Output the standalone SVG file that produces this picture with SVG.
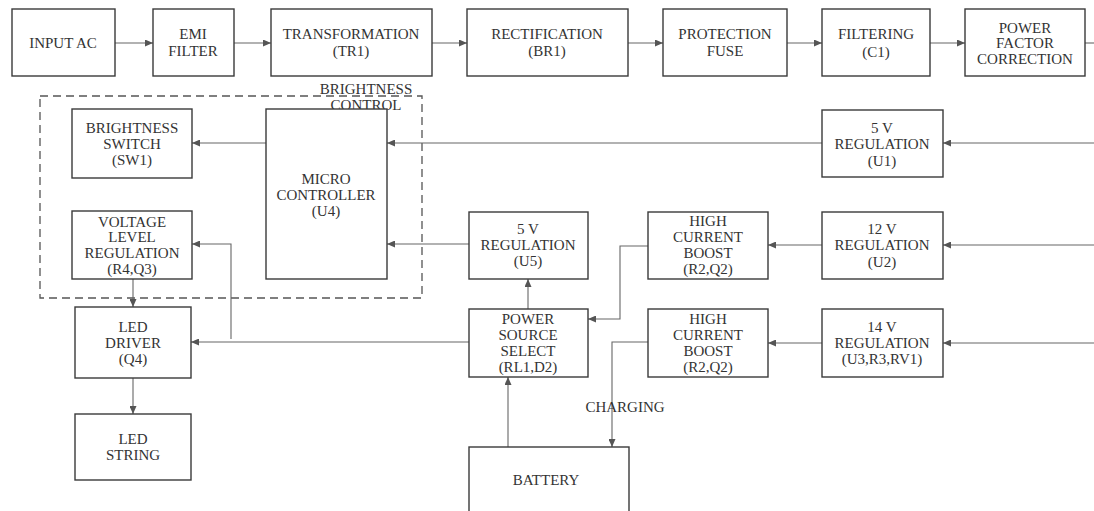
<svg xmlns="http://www.w3.org/2000/svg" width="1094" height="511" viewBox="0 0 1094 511">
<defs>
<marker id="ah" markerUnits="userSpaceOnUse" markerWidth="8" markerHeight="7" refX="8" refY="3.5" orient="auto">
<path d="M0,0 L8,3.5 L0,7 z" fill="#555"/>
</marker>
<style>
.box{fill:#fff;stroke:#3a3a3a;stroke-width:1.4}
.t{font-family:"Liberation Serif","Times New Roman",serif;font-size:15px;fill:#333;text-anchor:middle;dominant-baseline:central}
.c{fill:none;stroke:#666;stroke-width:1.1;marker-end:url(#ah)}
.cn{fill:none;stroke:#666;stroke-width:1.1}
.dash{fill:none;stroke:#555;stroke-width:1.3;stroke-dasharray:8 5}
</style>
</defs>
<rect width="1094" height="511" fill="#fff"/>

<g id="brightness-control">
<rect class="dash" x="40" y="96" width="382" height="202"/>
<text class="t" x="366" y="89">BRIGHTNESS</text>
<text class="t" x="366" y="105">CONTROL</text>
</g>

<g id="connectors">
<path class="c" d="M115,43 H153"/>
<path class="c" d="M234,43 H271"/>
<path class="c" d="M432,43 H467"/>
<path class="c" d="M628,43 H663"/>
<path class="c" d="M787,43 H822"/>
<path class="c" d="M930,43 H965"/>
<path class="cn" d="M1085,43 H1094"/>
<path class="c" d="M1094,143 H943"/>
<path class="c" d="M1094,245 H943"/>
<path class="c" d="M1094,343 H943"/>
<path class="c" d="M822,143 H387"/>
<path class="c" d="M266,143 H192"/>
<path class="c" d="M822,245 H768"/>
<path class="c" d="M648,246 H620 V319 H588"/>
<path class="c" d="M822,343 H768"/>
<path class="c" d="M648,342 H612 V447"/>
<path class="c" d="M508,447 V377"/>
<path class="c" d="M528,309 V279"/>
<path class="c" d="M469,244 H387"/>
<path class="c" d="M469,342 H191"/>
<path class="c" d="M231,339 V244 H192"/>
<path class="c" d="M133,279 V307"/>
<path class="c" d="M133,378 V414"/>
<text class="t" x="625" y="407">CHARGING</text>
</g>

<g id="input-ac"><rect class="box" x="12" y="9" width="103" height="67"/><text class="t" x="63" y="43">INPUT AC</text></g>
<g id="emi-filter"><rect class="box" x="153" y="9" width="81" height="67"/><text class="t" x="193" y="34">EMI</text><text class="t" x="193" y="51">FILTER</text></g>
<g id="transformation"><rect class="box" x="271" y="9" width="161" height="67"/><text class="t" x="351" y="34">TRANSFORMATION</text><text class="t" x="351" y="51">(TR1)</text></g>
<g id="rectification"><rect class="box" x="467" y="9" width="161" height="67"/><text class="t" x="547" y="34">RECTIFICATION</text><text class="t" x="547" y="51">(BR1)</text></g>
<g id="protection-fuse"><rect class="box" x="663" y="9" width="124" height="67"/><text class="t" x="725" y="34">PROTECTION</text><text class="t" x="725" y="51">FUSE</text></g>
<g id="filtering"><rect class="box" x="822" y="9" width="108" height="67"/><text class="t" x="876" y="34">FILTERING</text><text class="t" x="876" y="52">(C1)</text></g>
<g id="pfc"><rect class="box" x="965" y="9" width="120" height="67"/><text class="t" x="1025" y="28">POWER</text><text class="t" x="1025" y="43">FACTOR</text><text class="t" x="1025" y="59">CORRECTION</text></g>

<g id="brightness-switch"><rect class="box" x="72" y="109" width="120" height="69"/><text class="t" x="132" y="128">BRIGHTNESS</text><text class="t" x="132" y="144">SWITCH</text><text class="t" x="132" y="160">(SW1)</text></g>
<g id="micro-controller"><rect class="box" x="266" y="109" width="121" height="170"/><text class="t" x="326" y="179">MICRO</text><text class="t" x="326" y="195">CONTROLLER</text><text class="t" x="326" y="211">(U4)</text></g>
<g id="voltage-level-regulation"><rect class="box" x="72" y="211" width="120" height="68"/><text class="t" x="132" y="222">VOLTAGE</text><text class="t" x="132" y="237">LEVEL</text><text class="t" x="132" y="253">REGULATION</text><text class="t" x="132" y="269">(R4,Q3)</text></g>
<g id="led-driver"><rect class="box" x="75" y="307" width="116" height="71"/><text class="t" x="133" y="327">LED</text><text class="t" x="133" y="343">DRIVER</text><text class="t" x="133" y="359">(Q4)</text></g>
<g id="led-string"><rect class="box" x="75" y="414" width="116" height="66"/><text class="t" x="133" y="439">LED</text><text class="t" x="133" y="455">STRING</text></g>

<g id="reg-5v-u5"><rect class="box" x="469" y="212" width="119" height="67"/><text class="t" x="528" y="229">5 V</text><text class="t" x="528" y="245">REGULATION</text><text class="t" x="528" y="261">(U5)</text></g>
<g id="power-source-select"><rect class="box" x="469" y="309" width="119" height="68"/><text class="t" x="528" y="319">POWER</text><text class="t" x="528" y="335">SOURCE</text><text class="t" x="528" y="351">SELECT</text><text class="t" x="528" y="367">(RL1,D2)</text></g>
<g id="battery"><rect class="box" x="469" y="447" width="160" height="72"/><text class="t" x="546" y="480">BATTERY</text></g>
<g id="hcb-1"><rect class="box" x="648" y="212" width="120" height="67"/><text class="t" x="708" y="221">HIGH</text><text class="t" x="708" y="237">CURRENT</text><text class="t" x="708" y="253">BOOST</text><text class="t" x="708" y="269">(R2,Q2)</text></g>
<g id="hcb-2"><rect class="box" x="648" y="309" width="120" height="68"/><text class="t" x="708" y="319">HIGH</text><text class="t" x="708" y="335">CURRENT</text><text class="t" x="708" y="351">BOOST</text><text class="t" x="708" y="367">(R2,Q2)</text></g>

<g id="reg-5v-u1"><rect class="box" x="822" y="110" width="121" height="67"/><text class="t" x="882" y="128">5 V</text><text class="t" x="882" y="144">REGULATION</text><text class="t" x="882" y="161">(U1)</text></g>
<g id="reg-12v-u2"><rect class="box" x="822" y="212" width="121" height="67"/><text class="t" x="882" y="229">12 V</text><text class="t" x="882" y="245">REGULATION</text><text class="t" x="882" y="262">(U2)</text></g>
<g id="reg-14v-u3"><rect class="box" x="822" y="309" width="121" height="68"/><text class="t" x="882" y="327">14 V</text><text class="t" x="882" y="343">REGULATION</text><text class="t" x="882" y="359">(U3,R3,RV1)</text></g>
</svg>
